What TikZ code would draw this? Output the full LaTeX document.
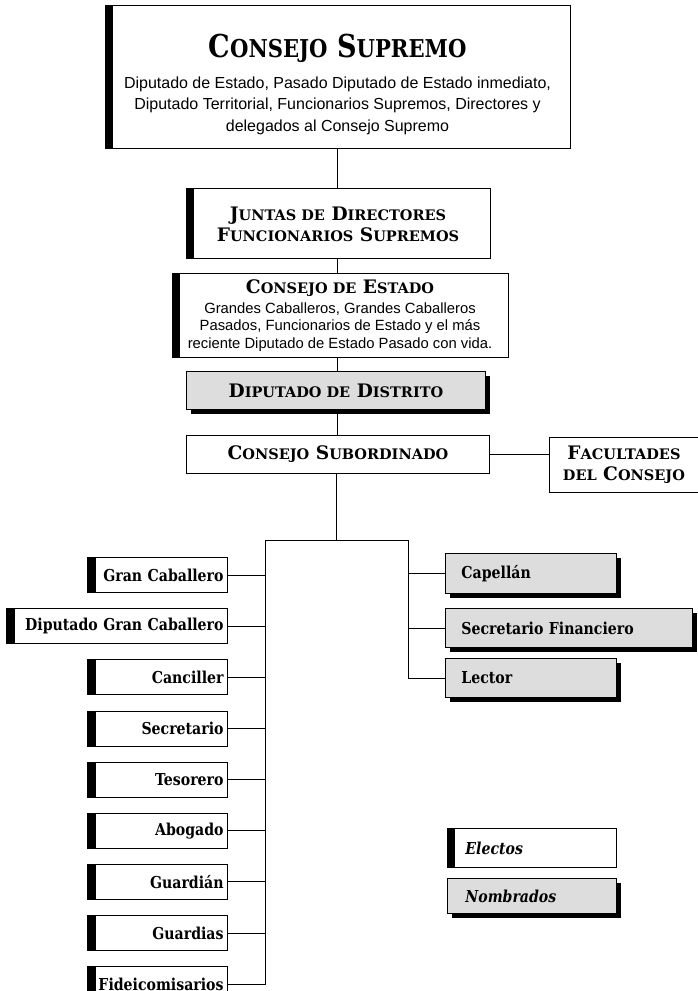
\documentclass[tikz,border=0pt]{standalone}
\usepackage{fontspec}
\setmainfont{DejaVu Serif}
\setsansfont{Liberation Sans}
\newfontfamily\serifalta{DejaVu Serif}[FakeStretch=0.86]
\usetikzlibrary{positioning, shadows}

\definecolor{grisfondo}{RGB}{221,221,222}
\newcommand{\psc}[1]{\scalebox{0.78}{#1}}
\newcommand{\tamcaja}{\serifalta\fontsize{16.4}{18}\selectfont}
\newcommand{\tamtitulo}{\fontsize{18.6}{21}\selectfont}

\tikzset{
  caja/.style={draw, line width=0.9pt, inner sep=0pt, font=\bfseries\tamcaja},
  electo/.style={caja, fill=white,
    path picture={\fill[black] (path picture bounding box.north west) rectangle ([xshift=8pt]path picture bounding box.south west);}},
  nombrado/.style={caja, fill=grisfondo,
    drop shadow={shadow xshift=4.5pt, shadow yshift=-4.5pt, fill=black, opacity=1}},
  izq/.style={electo, minimum height=35, inner xsep=4pt, text width=132pt, align=right},
  der/.style={nombrado, minimum height=39, inner xsep=16pt, align=left},
  linea/.style={line width=0.9pt},
  titulo/.style={anchor=base, inner sep=0pt, font=\bfseries\tamtitulo},
  texto/.style={anchor=base, inner sep=0pt, font=\sffamily\fontsize{16}{18}\selectfont}
}

\begin{document}
\begin{tikzpicture}[x=1pt, y=-1pt]
\useasboundingbox (0,0) rectangle (698,991);

% cuerpos superiores
\node[electo, minimum width=465, minimum height=143, anchor=north west] (sup) at (105,5) {};
\node[anchor=base, inner sep=0pt, font=\bfseries\serifalta\fontsize{31.5}{33}\selectfont] (sup-t) at (337.5,57) {C\psc{ONSEJO} S\psc{UPREMO}};
\node[texto] (sup-1) at (337.5,88) {Diputado de Estado, Pasado Diputado de Estado inmediato,};
\node[texto] (sup-2) at (337.5,109.5) {Diputado Territorial, Funcionarios Supremos, Directores y};
\node[texto] (sup-3) at (337.5,131) {delegados al Consejo Supremo};

\node[electo, minimum width=304, minimum height=70, anchor=north west] (jun) at (186,188) {};
\node[titulo] (jun-1) at (338,220) {J\psc{UNTAS DE} D\psc{IRECTORES}};
\node[titulo] (jun-2) at (338,241) {F\psc{UNCIONARIOS} S\psc{UPREMOS}};

\node[electo, minimum width=336, minimum height=84, anchor=north west] (est) at (172,273) {};
\node[titulo] (est-t) at (340,293) {C\psc{ONSEJO DE} E\psc{STADO}};
\node[texto, font=\sffamily\fontsize{14.8}{17}\selectfont] (est-1) at (340,313) {Grandes Caballeros, Grandes Caballeros};
\node[texto, font=\sffamily\fontsize{14.8}{17}\selectfont] (est-2) at (340,330.5) {Pasados, Funcionarios de Estado y el más};
\node[texto, font=\sffamily\fontsize{14.8}{17}\selectfont] (est-3) at (340,348) {reciente Diputado de Estado Pasado con vida.};

\node[nombrado, minimum width=299, minimum height=38, anchor=north west, font=\bfseries\tamtitulo] (dis) at (186,371) {D\psc{IPUTADO DE} D\psc{ISTRITO}};
\node[caja, minimum width=303, minimum height=38, anchor=north west, font=\bfseries\tamtitulo] (sub) at (186,435) {C\psc{ONSEJO} S\psc{UBORDINADO}};
\node[caja, minimum width=149, minimum height=55, anchor=north west, align=center, font=\bfseries\fontsize{18.6}{21.5}\selectfont] (fac) at (549,437) {F\psc{ACULTADES}\\\psc{DEL} C\psc{ONSEJO}};

% funcionarios electos
\node[izq, anchor=east] (gca) at (228,575) {Gran Caballero};
\node[izq, text width=213pt, below left=15.25pt and 0pt of gca.south east] (dgc) {Diputado Gran Caballero};
\node[izq, below left=15.25pt and 0pt of dgc.south east] (can) {Canciller};
\node[izq, below left=15.25pt and 0pt of can.south east] (sec) {Secretario};
\node[izq, below left=15.25pt and 0pt of sec.south east] (tes) {Tesorero};
\node[izq, below left=15.25pt and 0pt of tes.south east] (abo) {Abogado};
\node[izq, below left=15.25pt and 0pt of abo.south east] (gdn) {Guardián};
\node[izq, below left=15.25pt and 0pt of gdn.south east] (gds) {Guardias};
\node[izq, below left=15.25pt and 0pt of gds.south east] (fid) {Fideicomisarios};

% funcionarios nombrados
\node[der, minimum height=40, text width=139pt, anchor=north west] (cap) at (445,553) {Capellán};
\node[der, text width=215pt, anchor=north west] (sfi) at (445,608) {Secretario Financiero};
\node[der, text width=139pt, anchor=north west] (lec) at (445,658) {Lector};

% leyenda
\node[electo, minimum width=169, minimum height=39, inner xsep=18pt, text width=133pt, align=left, anchor=north west, font=\bfseries\itshape\tamcaja] (ele) at (447,828) {Electos};
\node[nombrado, minimum width=169, minimum height=35, inner xsep=18pt, text width=133pt, align=left, anchor=north west, font=\bfseries\itshape\tamcaja] (nom) at (447,878) {Nombrados};

% conectores
\coordinate (nudo) at (336,540);
\coordinate (ramaizq) at (265,540);
\coordinate (ramader) at (408,540);
\draw[linea] (sup.south -| 337,0) -- (jun.north -| 337,0);
\draw[linea] (jun.south -| 337,0) -- (est.north -| 337,0);
\draw[linea] (est.south -| 337,0) -- (dis.north -| 337,0);
\draw[linea] ([yshift=-4.5pt]dis.south -| 337,0) -- (sub.north -| 337,0);
\draw[linea] (sub.east) -- (sub.east -| fac.west);
\draw[linea] (sub.south -| nudo) -- (nudo);
\draw[linea] (ramaizq) -- (ramader);
\draw[linea] (ramaizq) |- (fid.east);
\draw[linea] (ramader) |- (lec.west);
\foreach \n in {gca,dgc,can,sec,tes,abo,gdn,gds}
  \draw[linea] (\n.east) -- (\n.east -| ramaizq);
\foreach \n in {cap,sfi}
  \draw[linea] (\n.west) -- (\n.west -| ramader);
\end{tikzpicture}
\end{document}
